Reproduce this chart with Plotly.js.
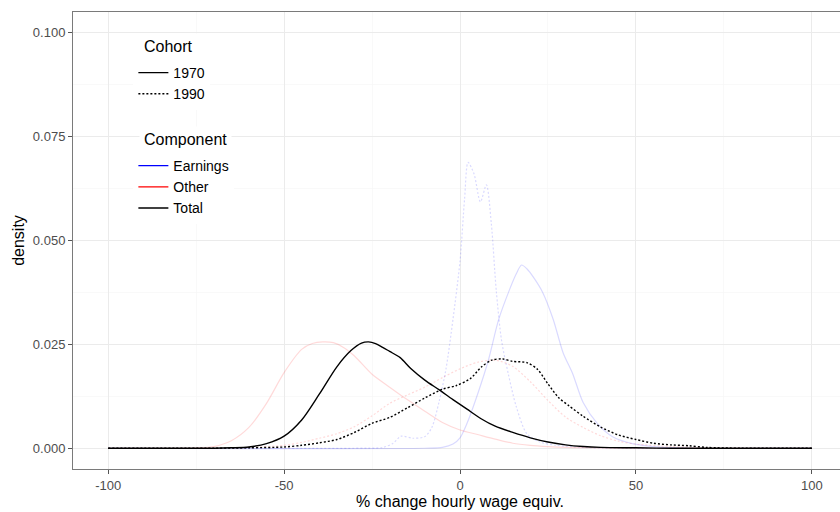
<!DOCTYPE html>
<html>
<head>
<meta charset="utf-8">
<script src="https://cdn.plot.ly/plotly-3.0.1.min.js"></script>
<style>
  html, body { margin: 0; padding: 0; overflow: hidden; background: #fff; }
  #chart { width: 860px; height: 512px; }
</style>
</head>
<body>
<div id="chart"></div>
<script>
// ---- data ----
const xTickVals = [-100, -50, 0, 50, 100];
const xTickText = ["-100", "-50", "0", "50", "100"];
const xMinorVals = [-75, -25, 25, 75];
const yTickVals = [0, 0.025, 0.05, 0.075, 0.1];
const yTickText = ["0.000", "0.025", "0.050", "0.075", "0.100"];
const yMinorVals = [0.0125, 0.0375, 0.0625, 0.0875];

// Other, 1970 (red, solid)
const otherX1970 = [-100,-80,-75,-70,-65,-60,-55,-50,-45,-42,-39,-36,-33,-30,-25,-20,-15,-10,-5,0,5,10,15,20,25,30,40,50,60,80,100];
const otherY1970 = [0,0,0.0001,0.0004,0.0018,0.005,0.0108,0.0182,0.0238,0.0252,0.0256,0.0254,0.0242,0.0222,0.0178,0.0147,0.0117,0.0089,0.0062,0.0044,0.0033,0.0022,0.0012,0.0007,0.0004,0.0002,0.0001,0,0,0,0];
// Other, 1990 (red, dotted)
const otherX1990 = [-100,-70,-60,-50,-45,-40,-35,-30,-25,-20,-15,-10,-5,0,5,10,15,20,25,30,35,40,45,50,60,70,80,100];
const otherY1990 = [0,0,0.0002,0.0007,0.0014,0.0024,0.0035,0.0052,0.0078,0.0108,0.0128,0.0147,0.017,0.0191,0.0207,0.0212,0.0197,0.016,0.0115,0.0075,0.005,0.003,0.0017,0.001,0.0004,0.0001,0,0];
// Earnings, 1970 (blue, solid)
const earnX1970 = [-100,-10,-5,-2,0,2,5,8,11,14,16,17.5,19,21,23.5,26.5,29.3,32,35,39,43.5,49,55,65,100];
const earnY1970 = [0,0,0.0002,0.001,0.0025,0.006,0.013,0.021,0.031,0.038,0.042,0.0441,0.0432,0.041,0.0375,0.031,0.023,0.018,0.011,0.006,0.0027,0.0011,0.0004,0,0];
// Earnings, 1990 (blue, dotted)
const earnX1990 = [-100,-30,-22,-19,-16.7,-13.4,-10,-8,-6,-4,-2,0,1.3,2.3,4,5.8,7.5,8.9,10.3,11.8,13.7,16,19,22.7,27.4,35,45,100];
const earnY1990 = [0,0,0.0002,0.0012,0.0029,0.0024,0.0028,0.005,0.011,0.019,0.031,0.045,0.060,0.0688,0.066,0.0593,0.0634,0.0541,0.038,0.026,0.018,0.010,0.0035,0.0015,0.0007,0.0002,0,0];
// Total, 1970 (black, solid)
const totalX1970 = [-100,-80,-70,-65,-60,-55,-50,-45,-40,-35,-31,-28,-26,-24,-22,-20,-17,-14,-10,-6,-2,2,6,10,15,20,25,30,35,40,50,60,80,100];
const totalY1970 = [0,0,0,0.0001,0.0003,0.0011,0.0029,0.0068,0.013,0.0196,0.0235,0.0253,0.0256,0.0252,0.0243,0.0233,0.0218,0.0192,0.0164,0.0141,0.0117,0.0094,0.0071,0.0053,0.0038,0.0025,0.0015,0.0008,0.0004,0.0002,0.0001,0,0,0];
// Total, 1990 (black, dotted)
const totalX1990 = [-100,-70,-60,-50,-45,-40,-35,-30,-25,-20,-15,-10,-5,-1,3,6,9,12,15,19,22,25,28,31,35,40,45,50,55,60,65,70,80,100];
const totalY1990 = [0,0,0.0001,0.0003,0.0007,0.0013,0.0021,0.0038,0.006,0.0074,0.0097,0.0121,0.0142,0.0151,0.0168,0.0195,0.0212,0.0215,0.0209,0.0206,0.019,0.0155,0.0122,0.0102,0.0077,0.0051,0.0032,0.0021,0.0012,0.0008,0.0006,0.0002,0,0];

const cohortNames = ["1970", "1990"];
const componentNames = ["Earnings", "Other", "Total"];
const legendTitles = ["Cohort", "Component"];

// ---- styles ----
const FONT = "Liberation Sans, Arial, Helvetica, sans-serif";
const DOT = "2px,2px";
const fadedBlue = "rgba(0,0,255,0.15)";
const fadedRed = "rgba(255,0,0,0.15)";

function curve(x, y, color, dash, width) {
  return {
    type: "scatter", mode: "lines", x: x, y: y,
    line: { color: color, dash: dash, width: width, shape: "spline", smoothing: 0.8 },
    showlegend: false, hoverinfo: "skip"
  };
}
function legendEntry(name, color, dash, legend) {
  return {
    type: "scatter", mode: "lines", x: [null], y: [null], name: name,
    line: { color: color, dash: dash, width: 1.3 },
    showlegend: true, legend: legend, hoverinfo: "skip"
  };
}

const traces = [
  curve(earnX1970, earnY1970, fadedBlue, "solid", 1.2),
  curve(earnX1990, earnY1990, fadedBlue, DOT, 1.2),
  curve(otherX1970, otherY1970, fadedRed, "solid", 1.2),
  curve(otherX1990, otherY1990, fadedRed, DOT, 1.2),
  curve(totalX1970, totalY1970, "#000000", "solid", 1.4),
  curve(totalX1990, totalY1990, "#000000", DOT, 1.4),
  legendEntry(cohortNames[0], "#000000", "solid", "legend"),
  legendEntry(cohortNames[1], "#000000", DOT, "legend"),
  legendEntry(componentNames[0], "#0000ff", "solid", "legend2"),
  legendEntry(componentNames[1], "#ff0000", "solid", "legend2"),
  legendEntry(componentNames[2], "#000000", "solid", "legend2")
];

const axisCommon = {
  showline: true, mirror: true, linecolor: "#7a7a7a", linewidth: 1,
  ticks: "outside", ticklen: 4, tickwidth: 1, tickcolor: "#555555",
  tickfont: { family: FONT, size: 13, color: "#4d4d4d" },
  showgrid: true, gridcolor: "#ebebeb", gridwidth: 1,
  zeroline: false
};

function legendTitle(text, yPaper) {
  return {
    xref: "paper", yref: "paper", x: 0.0852, y: yPaper,
    xanchor: "left", yanchor: "middle", showarrow: false,
    text: text, font: { family: FONT, size: 16, color: "#000" },
    bgcolor: "#ffffff", borderpad: 4
  };
}

const layout = {
  width: 860, height: 512,
  margin: { l: 73, r: 13, t: 12, b: 43 },
  paper_bgcolor: "#ffffff", plot_bgcolor: "#ffffff",
  font: { family: FONT, color: "#000000" },
  xaxis: Object.assign({}, axisCommon, {
    range: [-110, 110],
    tickmode: "array", tickvals: xTickVals, ticktext: xTickText,
    minor: { tickmode: "array", tickvals: xMinorVals, showgrid: true, gridcolor: "#f5f5f5", gridwidth: 0.6, ticks: "" },
    title: { text: "% change hourly wage equiv.", font: { family: FONT, size: 16, color: "#000" }, standoff: 2 }
  }),
  yaxis: Object.assign({}, axisCommon, {
    range: [-0.005, 0.105],
    tickmode: "array", tickvals: yTickVals, ticktext: yTickText,
    minor: { tickmode: "array", tickvals: yMinorVals, showgrid: true, gridcolor: "#f5f5f5", gridwidth: 0.6, ticks: "" },
    title: { text: "density", font: { family: FONT, size: 16, color: "#000" }, standoff: 4 }
  }),
  legend: {
    font: { family: FONT, size: 14, color: "#000" },
    x: 0.078, y: 0.9016, xanchor: "left", yanchor: "top",
    bgcolor: "#ffffff", borderwidth: 0, itemwidth: 30
  },
  legend2: {
    font: { family: FONT, size: 14, color: "#000" },
    x: 0.078, y: 0.698, xanchor: "left", yanchor: "top",
    bgcolor: "#ffffff", borderwidth: 0, itemwidth: 30
  },
  annotations: [
    legendTitle(legendTitles[0], 0.9256),
    legendTitle(legendTitles[1], 0.7221)
  ]
};

Plotly.newPlot("chart", traces, layout, { displayModeBar: false, staticPlot: true });
</script>
</body>
</html>
